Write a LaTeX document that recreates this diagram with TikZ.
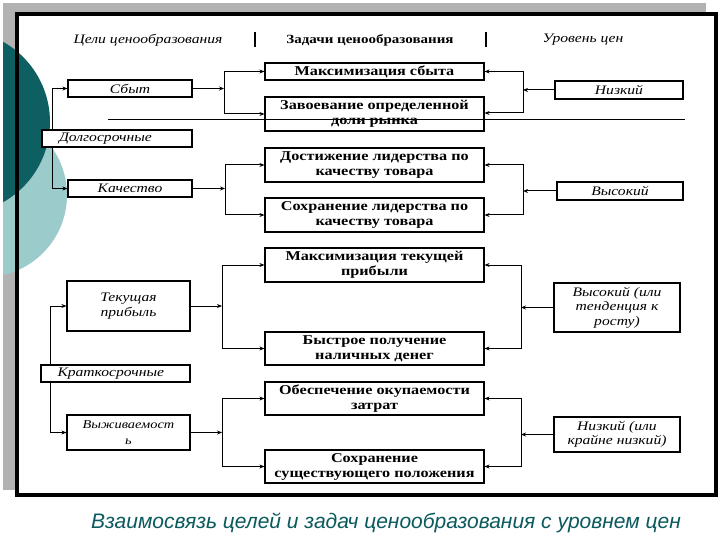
\documentclass[tikz,border=0pt]{standalone}
\usepackage{fontspec}
\setmainfont{Liberation Serif}
\newfontfamily\wfont[FakeStretch=1.2]{Liberation Serif}
\newfontfamily\capfont{Liberation Sans}
\usetikzlibrary{arrows.meta}
\definecolor{tealD}{HTML}{0E5F62}
\definecolor{tealL}{HTML}{9CCBCB}
\definecolor{capc}{HTML}{0B5A5E}
\tikzset{
 bx/.style={draw=black,line width=1.2pt,fill=white,inner sep=1pt,align=center},
 mbox/.style={bx,font=\wfont\fontsize{13.5}{15}\selectfont\bfseries,minimum width=219pt},
 lbox/.style={bx,font=\wfont\fontsize{13}{14.5}\selectfont\itshape},
 arr/.style={line width=1pt,-{Stealth[length=5pt,width=4pt]}},
 ln/.style={line width=1pt},
}
\begin{document}
\begin{tikzpicture}[x=1pt,y=-1pt]
\useasboundingbox (0,0) rectangle (720,540);
\fill[white] (0,0) rectangle (720,540);
\fill[gray!60] (3,3) rectangle (706,13);
\fill[gray!60] (3,3) rectangle (15,490);
\begin{scope}
\clip (3,3) rectangle (80,490);
\fill[tealL] (-15,195) circle (82);
\fill[tealD] (-42,122) circle (92);
\end{scope}
\draw[line width=4pt] (17,14) rectangle (716,495);
% headers
\node[font=\wfont\fontsize{13}{14}\selectfont\itshape] (h1) at (148,40) {Цели ценообразования};
\node[font=\wfont\fontsize{12.5}{14}\selectfont\bfseries] (h2) at (370,40) {Задачи ценообразования};
\node[font=\wfont\fontsize{13}{14}\selectfont\itshape] (h3) at (583,40) {Уровень цен};
\draw[line width=1.3pt] (255,32) -- (255,47);
\draw[line width=1.3pt] (486,32) -- (486,47);
% left
\node[lbox,minimum width=124pt,minimum height=17pt] (sb) at (130,88.5) {Сбыт};
\node[lbox,minimum width=150pt,minimum height=17pt,text width=144pt,align=left] (dl) at (117,138.5) {\hspace*{14pt}Долгосрочные};
\node[lbox,minimum width=124pt,minimum height=17pt] (kc) at (130,188.5) {Качество};
\node[lbox,minimum width=123pt,minimum height=50pt] (tp) at (128.5,306) {Текущая\\прибыль};
\node[lbox,minimum width=149pt,minimum height=17pt,text width=140pt,align=left] (kr) at (115.5,373.5) {\hspace*{12pt}Краткосрочные};
\node[lbox,minimum width=123pt,minimum height=35pt,font=\wfont\fontsize{12}{16}\selectfont\itshape] (vy) at (128.5,432.5) {Выживаемост\\ь};
% middle
\node[mbox,minimum height=17pt] (m1) at (374.5,71.5) {Максимизация сбыта};
\node[mbox,minimum height=34pt] (m2) at (374.5,114) {Завоевание определенной\\доли рынка};
\node[mbox,minimum height=34pt] (m3) at (374.5,165) {Достижение лидерства по\\качеству товара};
\node[mbox,minimum height=34pt] (m4) at (374.5,215) {Сохранение лидерства по\\качеству товара};
\node[mbox,minimum height=34pt] (m5) at (374.5,265) {Максимизация текущей\\прибыли};
\node[mbox,minimum height=33pt] (m6) at (374.5,348.5) {Быстрое получение\\наличных денег};
\node[mbox,minimum height=33pt] (m7) at (374.5,398.5) {Обеспечение окупаемости\\затрат};
\node[mbox,minimum height=33pt] (m8) at (374.5,466.5) {Сохранение\\существующего положения};
\draw[ln] (108,120) -- (685,120);
% right
\node[lbox,minimum width=128pt,minimum height=18pt] (r1) at (619,90) {Низкий};
\node[lbox,minimum width=126pt,minimum height=18pt] (r2) at (620,191) {Высокий};
\node[lbox,minimum width=126pt,minimum height=49pt] (r3) at (617,307.5) {Высокий (или\\тенденция к\\росту)};
\node[lbox,minimum width=126pt,minimum height=35pt] (r4) at (617,434.5) {Низкий (или\\крайне низкий)};
% left brackets
\coordinate (dt) at (52,130); \coordinate (db) at (52,147);
\draw[arr] (dt) |- (sb.west); \draw[arr] (db) |- (kc.west);
\coordinate (kt) at (50,365); \coordinate (kb) at (50,382);
\draw[arr] (kt) |- (tp.west); \draw[arr] (kb) |- (vy.west);
% left junctions
\coordinate (j1) at (224,88.5); \coordinate (j2) at (225,188.5);
\coordinate (j3) at (222,306); \coordinate (j4) at (222,432.5);
\draw[arr] (sb.east) -- (j1); \draw[arr] (j1) |- (m1.west); \draw[arr] (j1) |- (m2.west);
\draw[arr] (kc.east) -- (j2); \draw[arr] (j2) |- (m3.west); \draw[arr] (j2) |- (m4.west);
\draw[arr] (tp.east) -- (j3); \draw[arr] (j3) |- (m5.west); \draw[arr] (j3) |- (m6.west);
\draw[arr] (vy.east) -- (j4); \draw[arr] (j4) |- (m7.west); \draw[arr] (j4) |- (m8.west);
% right junctions
\coordinate (q1) at (523,90); \coordinate (q2) at (523,191);
\coordinate (q3) at (521,307.5); \coordinate (q4) at (521,434.5);
\draw[arr] (r1.west) -- (q1); \draw[arr] (q1) |- (m1.east); \draw[arr] (q1) |- ([yshift=1pt]m2.east);
\draw[arr] (r2.west) -- (q2); \draw[arr] (q2) |- (m3.east); \draw[arr] (q2) |- (m4.east);
\draw[arr] (r3.west) -- (q3); \draw[arr] (q3) |- (m5.east); \draw[arr] (q3) |- (m6.east);
\draw[arr] (r4.west) -- (q4); \draw[arr] (q4) |- (m7.east); \draw[arr] (q4) |- (m8.east);
% caption
\node[font=\capfont\fontsize{21}{22}\selectfont\itshape,text=capc] (cap) at (386,523) {Взаимосвязь целей и задач ценообразования с уровнем цен};
\end{tikzpicture}
\end{document}
